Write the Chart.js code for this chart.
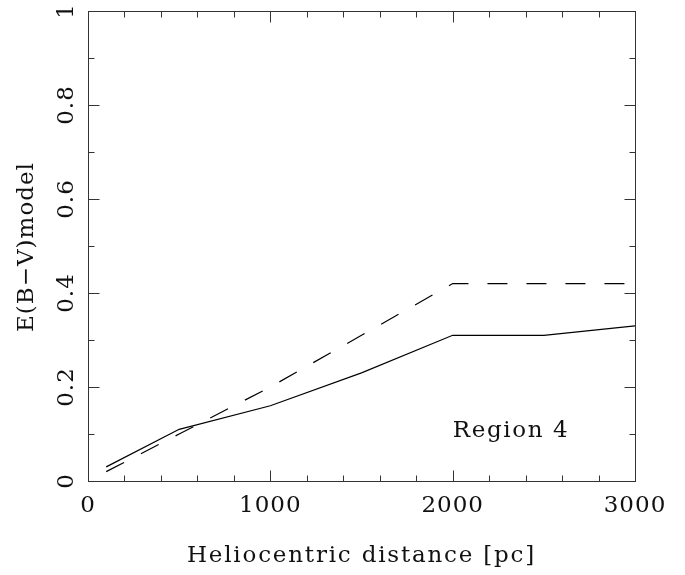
<!DOCTYPE html>
<html><head><meta charset="utf-8">
<script src="https://cdn.jsdelivr.net/npm/chart.js@4.4.0/dist/chart.umd.min.js"></script>
<style>html,body{margin:0;padding:0;background:#fff}canvas{display:block}</style>
</head><body>
<canvas id="c" width="685" height="575"></canvas>
<script>
// ---- data ----
const solidX  = [100, 500, 1000, 1500, 2000, 2500, 3000];
const solidY  = [0.03, 0.11, 0.16, 0.23, 0.31, 0.31, 0.33];
const dashedX = [100, 500, 1000, 1500, 2000, 2500, 3000];
const dashedY = [0.02, 0.10, 0.20, 0.31, 0.42, 0.42, 0.42];
const xMajorTicks = [0, 1000, 2000, 3000];
const xTickLabels = ['0', '1000', '2000', '3000'];
const xMinorTicks = [200, 400, 600, 800, 1200, 1400, 1600, 1800, 2200, 2400, 2600, 2800];
const yMajorTicks = [0, 0.2, 0.4, 0.6, 0.8, 1];
const yTickLabels = ['0', '0.2', '0.4', '0.6', '0.8', '1'];
const yMinorTicks = [0.1, 0.3, 0.5, 0.7, 0.9];
const xTitle = 'Heliocentric distance [pc]';
const yTitle = 'E(B\u2212V)model';
const annotationText = 'Region 4';
const annotationPos = [2300, 0.105];

const toPts = (xs, ys) => xs.map((x, i) => ({x: x, y: ys[i]}));
const FONT = '23px "DejaVu Serif"';

const framePlugin = {
  id: 'frame',
  afterDraw(chart) {
    const ctx = chart.ctx, a = chart.chartArea;
    const xs = chart.scales.x, ys = chart.scales.y;
    const L = Math.round(a.left) + 0.5, R = Math.round(a.right) + 0.5;
    const T = Math.round(a.top) + 0.5, B = Math.round(a.bottom) + 0.5;
    ctx.save();
    ctx.strokeStyle = '#333';
    ctx.lineWidth = 1;
    ctx.strokeRect(L, T, R - L, B - T);
    const major = 11, minor = 6;
    ctx.beginPath();
    const xt = (v, len) => {
      const p = Math.round(xs.getPixelForValue(v)) + 0.5;
      ctx.moveTo(p, B); ctx.lineTo(p, B - len);
      ctx.moveTo(p, T); ctx.lineTo(p, T + len);
    };
    const yt = (v, len) => {
      const p = Math.round(ys.getPixelForValue(v)) + 0.5;
      ctx.moveTo(L, p); ctx.lineTo(L + len, p);
      ctx.moveTo(R, p); ctx.lineTo(R - len, p);
    };
    xMajorTicks.forEach(v => xt(v, major));
    xMinorTicks.forEach(v => xt(v, minor));
    yMajorTicks.forEach(v => yt(v, major));
    yMinorTicks.forEach(v => yt(v, minor));
    ctx.stroke();

    ctx.fillStyle = '#111';
    ctx.font = FONT;
    const spacing = s => { try { ctx.letterSpacing = s; } catch (e) {} };
    spacing('1px');
    ctx.textAlign = 'center';
    ctx.textBaseline = 'alphabetic';
    xMajorTicks.forEach((v, i) => {
      ctx.fillText(xTickLabels[i], xs.getPixelForValue(v), 512);
    });
    yMajorTicks.forEach((v, i) => {
      ctx.save();
      ctx.translate(73, ys.getPixelForValue(v));
      ctx.rotate(-Math.PI / 2);
      ctx.fillText(yTickLabels[i], 0, 0);
      ctx.restore();
    });
    ctx.save();
    ctx.translate(33, (a.top + a.bottom) / 2 + 1);
    ctx.rotate(-Math.PI / 2);
    ctx.fillText(yTitle, 0, 0);
    ctx.restore();
    spacing('1.6px');
    ctx.fillText(annotationText, 511, ys.getPixelForValue(annotationPos[1]) + 5);
    spacing('1.8px');
    ctx.fillText(xTitle, (a.left + a.right) / 2, 562);
    ctx.restore();
  }
};

new Chart(document.getElementById('c'), {
  type: 'scatter',
  data: {
    datasets: [
      { data: toPts(solidX, solidY), showLine: true, borderColor: '#000', borderWidth: 1.2, pointRadius: 0, fill: false, tension: 0 },
      { data: toPts(dashedX, dashedY), showLine: true, borderColor: '#000', borderWidth: 1.2, borderDash: [20, 19], pointRadius: 0, fill: false, tension: 0 }
    ]
  },
  options: {
    responsive: false,
    animation: false,
    layout: { padding: { left: 88, right: 50, top: 11, bottom: 94 } },
    plugins: { legend: { display: false }, tooltip: { enabled: false } },
    scales: {
      x: { type: 'linear', min: 0, max: 3000, display: false },
      y: { type: 'linear', min: 0, max: 1, display: false }
    }
  },
  plugins: [framePlugin]
});
</script>
</body></html>
